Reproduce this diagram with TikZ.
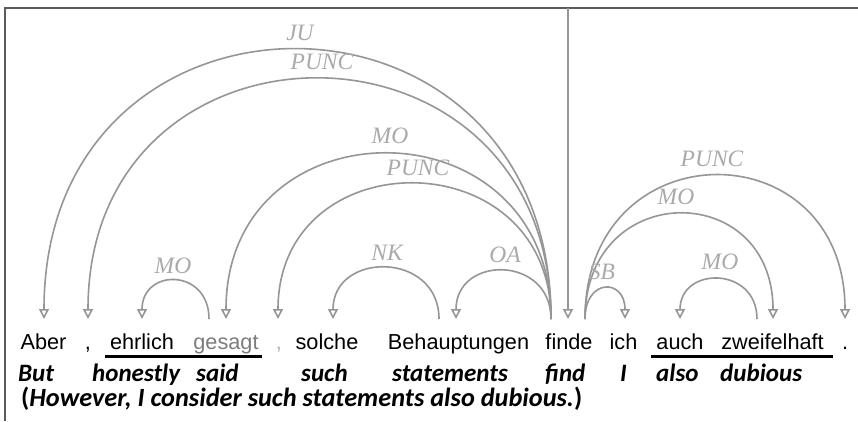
\documentclass[tikz,border=0pt]{standalone}
\usepackage{fontspec}
\usetikzlibrary{arrows.meta}
\newfontfamily\defont{Liberation Sans}
\newfontfamily\enfont{Carlito}
\newfontfamily\labfnt{Liberation Serif}
\definecolor{arcgray}{RGB}{150,150,150}
\definecolor{labgray}{RGB}{170,170,170}
\definecolor{framegray}{RGB}{90,90,90}
\definecolor{wordgray}{RGB}{125,125,125}
\tikzset{
  deparc/.style={draw=arcgray, line width=1.6pt, -{Triangle[open, length=10pt, width=10pt]}},
  deplab/.style={font=\labfnt\itshape\fontsize{23.5}{23.5}\selectfont, text=labgray, inner sep=0pt},
  deword/.style={font=\defont\fontsize{21.7}{21.7}\selectfont, anchor=base, inner sep=0pt},
  enword/.style={font=\enfont\bfseries\itshape\fontsize{25}{25}\selectfont, anchor=base west, inner sep=0pt},
  uline/.style={line width=2.8pt, black},
}
\begin{document}
\begin{tikzpicture}[x=1pt,y=-1pt]
\useasboundingbox (0,0) rectangle (858,421);
\fill[white] (0,0) rectangle (858,421);
% frame (cropped)
\draw[framegray, line width=2pt] (5,421) -- (5,8) -- (858,8);

% German words
\node[deword] (w-aber) at (43.5,349) {Aber};
\node[deword] (w-c1) at (88,349) {,};
\node[deword] (w-ehrlich) at (142,349) {ehrlich};
\node[deword, text=wordgray] (w-gesagt) at (226,349) {gesagt};
\node[deword, text=wordgray!60] (w-c2) at (279,349) {,};
\node[deword] (w-solche) at (327,349) {solche};
\node[deword] (w-beh) at (458.5,349) {Behauptungen};
\node[deword] (w-finde) at (569,349) {finde};
\node[deword] (w-ich) at (623.5,349) {ich};
\node[deword] (w-auch) at (680,349) {auch};
\node[deword] (w-zw) at (772.5,349) {zweifelhaft};
\node[deword] (w-dot) at (845,349) {.};

% underlines
\coordinate (u1a) at (105,356.5); \coordinate (u1b) at (262,356.5);
\coordinate (u2a) at (651,356.5); \coordinate (u2b) at (833,356.5);
\draw[uline] (u1a) -- (u1b);
\draw[uline] (u2a) -- (u2b);

% English gloss
\node[enword] (e-but) at (18,381) {But};
\node[enword] (e-honestly) at (92,381) {honestly};
\node[enword] (e-said) at (196,381) {said};
\node[enword] (e-such) at (301,381) {such};
\node[enword] (e-statements) at (392,381) {statements};
\node[enword] (e-find) at (545,381) {find};
\node[enword] (e-i) at (620,381) {I};
\node[enword] (e-also) at (656,381) {also};
\node[enword] (e-dubious) at (720,381) {dubious};
\node[enword, font=\enfont\bfseries\fontsize{26.3}{26.3}\selectfont] (e-trans) at (21,406) {(\textit{However, I consider such statements also dubious.})};

% arc end points
\coordinate (in-aber) at (44,319);
\coordinate (in-c1) at (88,319);
\coordinate (in-ehrlich) at (142,319);
\coordinate (in-gesagt) at (226,319);
\coordinate (in-c2) at (278,319);
\coordinate (in-solche) at (333,319);
\coordinate (in-beh) at (456,319);
\coordinate (in-finde) at (568,319);
\coordinate (in-ich) at (625,319);
\coordinate (in-auch) at (680,319);
\coordinate (in-zw) at (773,319);
\coordinate (in-dot) at (845,319);
\coordinate (out-gesagt) at (209,319);
\coordinate (out-beh) at (439,319);
\coordinate (out-findeL) at (551,319);
\coordinate (out-findeR) at (585,319);
\coordinate (out-zw) at (757,319);
\coordinate (root) at (568,8);

% arcs
\draw[deparc] (out-findeL) .. controls +(0,-359) and +(0,-359) .. (in-aber);
\draw[deparc] (out-findeL) .. controls +(0,-320) and +(0,-320) .. (in-c1);
\draw[deparc] (out-findeL) .. controls +(0,-220) and +(0,-220) .. (in-gesagt);
\draw[deparc] (out-findeL) .. controls +(0,-180) and +(0,-180) .. (in-c2);
\draw[deparc] (out-findeL) .. controls +(0,-64) and +(0,-64) .. (in-beh);
\draw[deparc] (out-beh) .. controls +(0,-68) and +(0,-68) .. (in-solche);
\draw[deparc] (out-gesagt) .. controls +(0,-51) and +(0,-51) .. (in-ehrlich);
\draw[deparc] (root) -- (in-finde);
\draw[deparc] (out-findeR) .. controls +(0,-41) and +(0,-41) .. (in-ich);
\draw[deparc] (out-zw) .. controls +(0,-53) and +(0,-53) .. (in-auch);
\draw[deparc] (out-findeR) .. controls +(0,-140) and +(0,-140) .. (in-zw);
\draw[deparc] (out-findeR) .. controls +(0,-191) and +(0,-191) .. (in-dot);

% labels
\node[deplab] (l-ju) at (300,33) {JU};
\node[deplab] (l-punc1) at (322,62) {PUNC};
\node[deplab] (l-mo1) at (390,136) {MO};
\node[deplab] (l-punc2) at (418,168) {PUNC};
\node[deplab] (l-mo2) at (173,266) {MO};
\node[deplab] (l-nk) at (387,253) {NK};
\node[deplab] (l-oa) at (505,255) {OA};
\node[deplab] (l-sb) at (602,272) {SB};
\node[deplab] (l-mo3) at (720,262) {MO};
\node[deplab] (l-mo4) at (676,197) {MO};
\node[deplab] (l-punc3) at (712,159) {PUNC};
\end{tikzpicture}
\end{document}
